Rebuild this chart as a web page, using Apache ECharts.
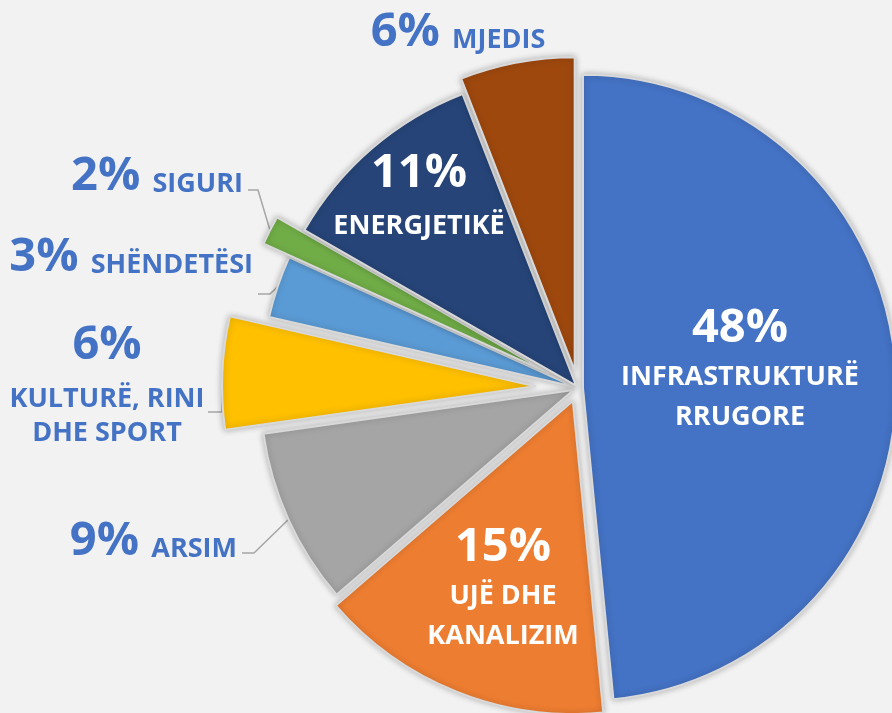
<!DOCTYPE html>
<html>
<head>
<meta charset="utf-8">
<title>Buxheti sipas sektorëve</title>
<script src="https://cdn.jsdelivr.net/npm/echarts@6/dist/echarts.min.js"></script>
<style>
  html, body { margin: 0; padding: 0; background: #f2f2f2; }
  #chart { width: 892px; height: 713px; }
</style>
</head>
<body>
<div id="chart"></div>
<script>
// sectors, clockwise from 12 o'clock
const sectors = ['INFRASTRUKTURË\nRRUGORE', 'UJË DHE\nKANALIZIM', 'ARSIM', 'KULTURË, RINI\nDHE SPORT', 'SHËNDETËSI', 'SIGURI', 'ENERGJETIKË', 'MJEDIS']
const shares = [48.4, 15.2, 9.1, 5.8, 3.2, 1.5, 10.8, 5.9]
const colors = ['#4472C4', '#ED7D31', '#A5A5A5', '#FFC000', '#5B9BD5', '#70AD47', '#264478', '#9E480E']

// layout only
const pieCenter = [578, 388]
const pieRadius = 313
const explode = [5, 14, 5, 43, 4, 33, 3, 18]
const inside = [true, true, false, false, false, false, true, false]
const labelAt = [[740, 300, 'center'], [503, 519, 'center'], [237, 513, 'right'], [107, 309, 'center'],
  [253, 229, 'right'], [243, 148, 'right'], [419, 145, 'center'], [458, 4, 'center']]
const pctLine = [57, 57, 57, 73, 57, 57, 57, 57]
const nameLine = [40, 40, 40, 34, 40, 40, 48, 40]
const leaders = [null, null, [242, 553, 12], [208, 412, 14], [258, 294, 12], [248, 190, 10], null, null]

const font = '"Open Sans", "Noto Sans", sans-serif'
const blueText = '#4472C4'

function richFor(i) {
  const c = inside[i] ? '#fff' : blueText
  return {
    p: { fontFamily: font, fontWeight: 'bold', fontSize: 47, color: c, lineHeight: pctLine[i] },
    n: { fontFamily: font, fontWeight: 'bold', fontSize: 27, color: c, lineHeight: nameLine[i] },
    // same-line name next to the percentage, dropped onto its baseline
    s: { fontFamily: font, fontWeight: 'bold', fontSize: 27, color: c, padding: [15, 0, 0, 0] },
  }
}

function labelText(p) {
  const pct = Math.round(p.percent) + '%'
  const lines = p.name.split('\n')
  if (!inside[p.dataIndex] && lines.length === 1) return '{p|' + pct + ' }{s|' + p.name + '}'
  return ['{p|' + pct + '}'].concat(lines.map(l => '{n|' + l + '}')).join('\n')
}

const total = shares.reduce((a, b) => a + b, 0)
let acc = 0
const series = shares.map((v, i) => {
  const mid = (acc + v / 2) / total * 2 * Math.PI
  acc += v
  const c = [pieCenter[0] + explode[i] * Math.sin(mid), pieCenter[1] - explode[i] * Math.cos(mid)]
  return {
    type: 'pie',
    center: c,
    radius: pieRadius,
    startAngle: 90,
    clockwise: true,
    silent: true,
    animation: false,
    avoidLabelOverlap: false,
    emphasis: { disabled: true },
    label: {
      show: true,
      position: inside[i] ? 'inside' : 'outside',
      formatter: labelText,
      fontFamily: font,
      fontSize: 27,
      rich: richFor(i),
    },
    labelLine: { show: !!leaders[i], length: 10, length2: 10, lineStyle: { color: '#a6a6a6', width: 1.5 } },
    labelLayout: (p) => {
      if (p.dataIndex !== i) return {}
      const at = labelAt[i]
      const out = { x: at[0], y: at[1], align: at[2], verticalAlign: 'top' }
      const ld = leaders[i]
      if (ld && p.labelLinePoints) {
        out.labelLinePoints = [p.labelLinePoints[0], [ld[0] + ld[2], ld[1]], [ld[0], ld[1]]]
      }
      return out
    },
    data: shares.map((w, j) => j === i
      ? {
          name: sectors[j],
          value: w,
          itemStyle: { color: colors[j], borderColor: '#d9d9d9', borderWidth: 2, shadowBlur: 6, shadowColor: 'rgba(0,0,0,0.25)' },
        }
      : {
          name: sectors[j],
          value: w,
          itemStyle: { color: 'rgba(0,0,0,0)', borderWidth: 0, shadowBlur: 0 },
          label: { show: false },
          labelLine: { show: false },
        }),
  }
})

const chart = echarts.init(document.getElementById('chart'))
chart.setOption({
  backgroundColor: '#f2f2f2',
  animation: false,
  series,
})
</script>
</body>
</html>
